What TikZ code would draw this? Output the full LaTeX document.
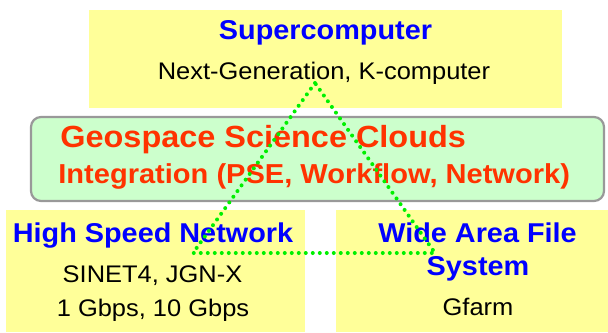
\documentclass[tikz,border=0pt]{standalone}
\usepackage{fontspec}
\setmainfont[FakeStretch=1.06]{Liberation Sans}
\definecolor{boxyellow}{HTML}{FFFF99}
\definecolor{boxgreen}{HTML}{CCFFCC}
\definecolor{edgegray}{HTML}{999999}
\definecolor{titleblue}{HTML}{0000FF}
\definecolor{cloudred}{HTML}{FF3300}
\definecolor{linkgreen}{HTML}{00F000}
\tikzset{
  ybox/.style={fill=boxyellow, draw=none, inner sep=0pt},
  gbox/.style={fill=boxgreen, draw=edgegray, line width=1.1pt, rounded corners=5pt, inner sep=0pt},
  title/.style={inner sep=0pt, anchor=base, text=titleblue, font=\fontsize{13.6}{16}\selectfont\bfseries},
  detail/.style={inner sep=0pt, anchor=base, text=black, font=\fontsize{12}{14}\selectfont},
  cloudA/.style={inner sep=0pt, anchor=base west, text=cloudred, font=\fontsize{15.3}{18}\selectfont\bfseries},
  cloudB/.style={inner sep=0pt, anchor=base west, text=cloudred, font=\fontsize{13.7}{16}\selectfont\bfseries},
  link/.style={draw=linkgreen, line width=2pt, line cap=round, dash pattern=on 0pt off 3.5pt}
}
\begin{document}
\begin{tikzpicture}[x=0.5pt,y=-0.5pt]
\useasboundingbox (0,0) rectangle (608,332);
% boxes
\node[ybox, minimum width=236.5pt, minimum height=49pt] (topbox) at (325.5,59) {};
\node[gbox, minimum width=286.5pt, minimum height=42pt] (cloud) at (317.5,159) {};
\node[ybox, minimum width=149.5pt, minimum height=61pt] (netbox) at (155.5,271) {};
\node[ybox, minimum width=136pt, minimum height=61pt] (fsbox) at (472,271) {};
% texts
\node[title] (sctitle) at (325.5,39) {Supercomputer};
\node[detail] (scdet) at (324,79) {Next-Generation, K-computer};
\node[cloudA] (cloudt) at (60,147) {Geospace Science Clouds};
\node[cloudB] (cloudd) at (58,183) {Integration (PSE, Workflow, Network)};
\node[title] (nettitle) at (153,242) {High Speed Network};
\node[detail] (netdetA) at (152.5,282) {SINET4, JGN-X};
\node[detail] (netdetB) at (153,316) {1 Gbps, 10 Gbps};
\node[title] (fstitleA) at (477.5,242) {Wide Area File};
\node[title] (fstitleB) at (478,275) {System};
\node[detail] (fsdet) at (478,315) {Gfarm};
% triangle
\coordinate (sc) at (315,83);
\coordinate (net) at (193,253);
\coordinate (fs) at (435,253);
\draw[link] (sc) -- (net) -- (fs) -- cycle;
\end{tikzpicture}
\end{document}
